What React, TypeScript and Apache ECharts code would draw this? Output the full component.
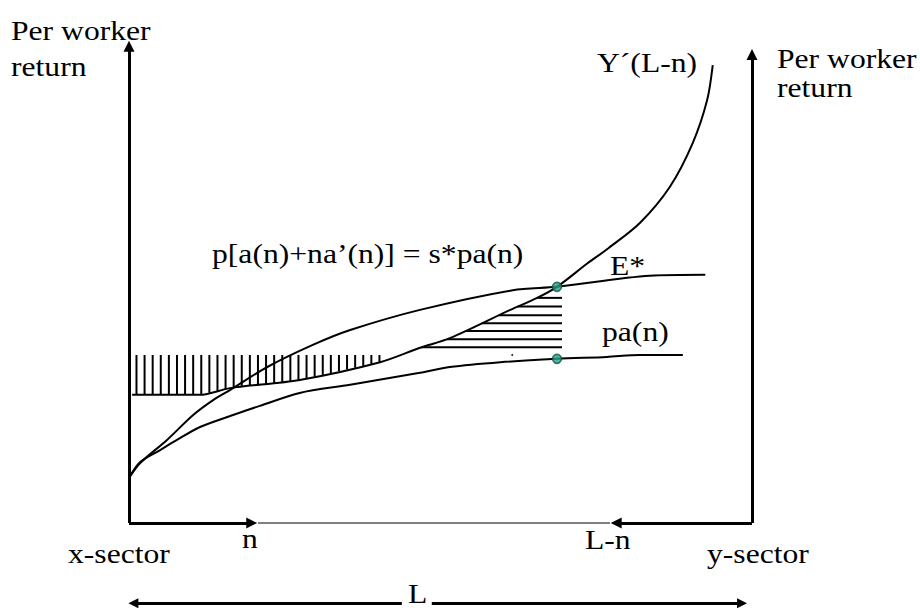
import React, { useEffect, useRef } from "react";
import * as echarts from "echarts";

// Curves (x: share of labour in x-sector, 0..100 = L ; y: per worker return)
const marginalCurve: number[][] = [
  [0, 9.4], [1.8, 12.5], [6.1, 17.3], [10.3, 22.5], [13.5, 25.6], [16.2, 27.7],
  [22.2, 32.5], [29.5, 37.1], [35.5, 40.2], [46.7, 44.4], [61.6, 48.5],
  [68.7, 49.2], [83.6, 51.5], [92.5, 51.7],
];
const paCurve: number[][] = [
  [0, 9.4], [1.8, 12.7], [5.0, 15.2], [7.7, 17.3], [11.4, 20.0], [16.7, 22.5],
  [21.0, 24.4], [27.4, 27.1], [35.5, 28.8], [46.7, 31.3], [51.5, 32.5],
  [59.6, 33.5], [68.7, 34.2], [76.7, 34.6], [82.0, 35.0], [88.9, 35.0],
];
const yPrimeCurve: number[][] = [
  [0.5, 26.7], [11.4, 26.7], [16.2, 28.1], [27.4, 29.8], [40.3, 33.5],
  [46.7, 36.5], [51.5, 38.5], [61.2, 44.4], [65.5, 46.9], [68.7, 49.2],
  [73.5, 54.0], [77.0, 57.3], [82.0, 62.5], [86.8, 70.0], [90.5, 79.2],
  [92.8, 88.1], [93.7, 95.4],
];
const equilibriumPoints: number[][] = [[68.7, 49.2], [68.7, 34.2]];
const strayDot: number[][] = [[61.5, 35.0]];

// Hatching
const vHatchX: number[] = [
  1.2, 2.5, 3.8, 5.1, 6.4, 7.7, 9.0, 10.3, 11.6, 12.9, 14.2, 15.5, 16.8, 18.1,
  19.4, 20.7, 22.0, 23.3, 24.6, 25.9, 27.2, 28.5, 29.8, 31.1, 32.4, 33.7, 35.0,
  36.3, 37.6, 38.9, 40.2,
];
const vHatchTop = 35.0;
const hHatchY: number[] = [46.9, 45.1, 43.3, 41.6, 40.0, 38.3, 36.6];
const hHatchRight = 69.5;

// Axis marks
const nMark = 20.7;
const lnMark = 77.2;
const lArrowY = -16.7;

function interpY(curve: number[][], x: number): number {
  for (let i = 0; i < curve.length - 1; i++) {
    const [x0, y0] = curve[i];
    const [x1, y1] = curve[i + 1];
    if (x >= x0 && x <= x1) return y0 + ((y1 - y0) * (x - x0)) / (x1 - x0 || 1);
  }
  return x < curve[0][0] ? curve[0][1] : curve[curve.length - 1][1];
}
function interpX(curve: number[][], y: number): number {
  for (let i = 0; i < curve.length - 1; i++) {
    const [x0, y0] = curve[i];
    const [x1, y1] = curve[i + 1];
    if (y > y0 && y <= y1) return x0 + ((x1 - x0) * (y - y0)) / (y1 - y0);
  }
  return curve[0][0];
}

function txt(text: string, x: number, baseline: number) {
  return {
    type: "text",
    x,
    y: baseline - 9.5,
    scaleX: 1.13,
    silent: true,
    style: {
      text,
      fontSize: 28,
      fontFamily: "Liberation Serif",
      fill: "#000",
      verticalAlign: "middle",
      align: "left",
    },
  };
}

export default function App() {
  const ref = useRef<HTMLDivElement>(null);
  useEffect(() => {
    document.body.style.margin = "0";
    if (!ref.current) return;
    const chart = echarts.init(ref.current, undefined, { renderer: "svg" });

    const vData = vHatchX.map((x) => [x, interpY(yPrimeCurve, x), vHatchTop]);
    const hData = hHatchY.map((y) => [interpX(yPrimeCurve, y), hHatchRight, y]);

    const thick = { color: "#000", width: 3, type: "solid" };
    const arrowEnd = (a: number[], b: number[], size = [11, 11]) => [
      { coord: a, symbol: "none" },
      { coord: b, symbol: "triangle", symbolSize: size },
    ];

    chart.setOption({
      animation: false,
      backgroundColor: "#fff",
      grid: { left: 129, top: 43, width: 623, height: 566.4 },
      xAxis: { type: "value", min: 0, max: 100, show: false },
      yAxis: { type: "value", min: -18, max: 100, show: false },
      series: [
        {
          type: "custom",
          name: "vHatch",
          silent: true,
          clip: false,
          data: vData,
          renderItem: (params: any, api: any) => {
            const p1 = api.coord([api.value(0), api.value(1)]);
            const p2 = api.coord([api.value(0), api.value(2)]);
            return {
              type: "line",
              shape: { x1: p1[0], y1: p1[1], x2: p2[0], y2: p2[1] },
              style: { stroke: "#000", lineWidth: 2 },
            };
          },
        },
        {
          type: "custom",
          name: "hHatch",
          silent: true,
          clip: false,
          data: hData,
          renderItem: (params: any, api: any) => {
            const p1 = api.coord([api.value(0), api.value(2)]);
            const p2 = api.coord([api.value(1), api.value(2)]);
            return {
              type: "line",
              shape: { x1: p1[0], y1: p1[1], x2: p2[0], y2: p2[1] },
              style: { stroke: "#000", lineWidth: 2 },
            };
          },
        },
        {
          type: "line",
          name: "p[a(n)+na'(n)]",
          data: marginalCurve,
          symbol: "none",
          smooth: 0.3,
          silent: true,
          lineStyle: { color: "#000", width: 2 },
        },
        {
          type: "line",
          name: "pa(n)",
          data: paCurve,
          symbol: "none",
          smooth: 0.3,
          silent: true,
          lineStyle: { color: "#000", width: 2 },
        },
        {
          type: "line",
          name: "Y'(L-n)",
          data: yPrimeCurve,
          symbol: "none",
          smooth: 0.3,
          silent: true,
          lineStyle: { color: "#000", width: 2 },
        },
        {
          type: "line",
          name: "axes",
          data: [],
          silent: true,
          markLine: {
            silent: true,
            animation: false,
            symbol: ["none", "triangle"],
            label: { show: false },
            lineStyle: thick,
            emphasis: { disabled: true },
            data: [
              arrowEnd([0, 0], [0, 99.3]),
              arrowEnd([100, 0], [100, 97.6]),
              arrowEnd([0, 0], [nMark - 1, 0]),
              [
                { coord: [nMark, 0], symbol: "none", lineStyle: { color: "#555", width: 1.5, type: "solid" } },
                { coord: [lnMark, 0], symbol: "none" },
              ],
              arrowEnd([100, 0], [lnMark + 1, 0]),
              arrowEnd([43.8, lArrowY], [0.7, lArrowY], [10, 10]),
              arrowEnd([48.6, lArrowY], [98.4, lArrowY], [10, 10]),
            ],
          },
        },
        {
          type: "scatter",
          name: "equilibrium",
          data: equilibriumPoints,
          symbol: "circle",
          symbolSize: 9,
          silent: true,
          itemStyle: { color: "#1fa58a", borderColor: "#1b4a40", borderWidth: 1.5 },
          z: 5,
        },
        {
          type: "scatter",
          name: "dot",
          data: strayDot,
          symbolSize: 2,
          silent: true,
          itemStyle: { color: "#000" },
        },
      ],
      graphic: [
        txt("Per worker", 11, 40),
        txt("return", 11, 76),
        txt("Per worker", 777, 68),
        txt("return", 777, 97),
        txt("Y´(L-n)", 597, 72),
        txt("p[a(n)+na’(n)] = s*pa(n)", 212, 263),
        txt("E*", 610, 275),
        txt("pa(n)", 602, 341),
        txt("n", 242, 548),
        txt("L-n", 585, 549),
        txt("x-sector", 68, 563),
        txt("y-sector", 707, 563),
        txt("L", 408, 603),
      ],
    });
    return () => chart.dispose();
  }, []);
  return <div ref={ref} style={{ width: 920, height: 610 }} />;
}
